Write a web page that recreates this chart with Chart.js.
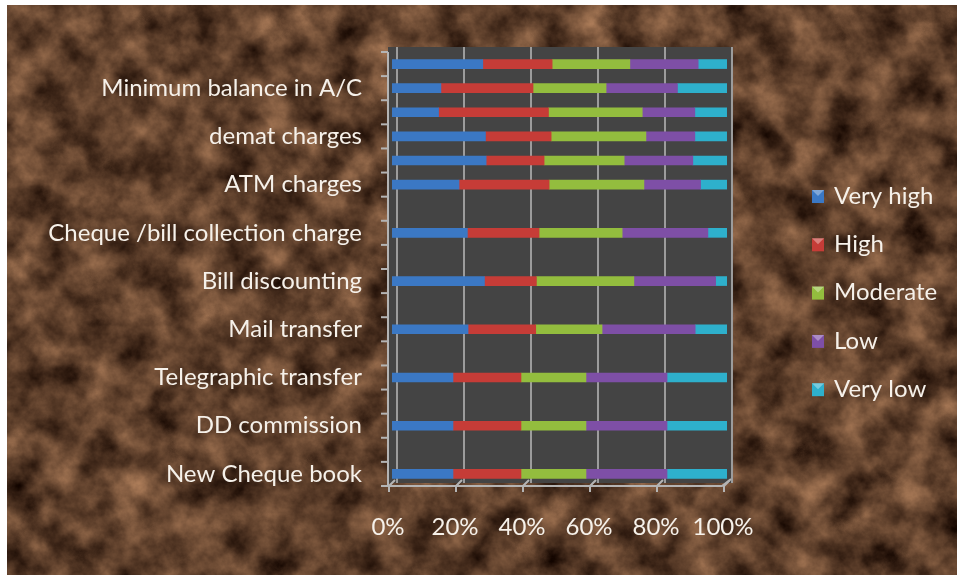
<!DOCTYPE html>
<html>
<head>
<meta charset="utf-8">
<script src="https://cdn.jsdelivr.net/npm/chart.js@4"></script>
<style>
  html, body { margin: 0; padding: 0; background: #fff; }
  #wrap { position: relative; width: 957px; height: 575px; overflow: hidden; }
  #marble { position: absolute; left: 7px; top: 5px; }
  canvas { position: absolute; left: 0; top: 0; }
</style>
</head>
<body>
<div id="wrap">
  <!-- brown marble backdrop -->
  <svg id="marble" width="950" height="570" xmlns="http://www.w3.org/2000/svg">
    <filter id="stone" x="0" y="0" width="100%" height="100%" color-interpolation-filters="sRGB">
      <feTurbulence type="fractalNoise" baseFrequency="0.028" numOctaves="5" seed="7"/>
      <feColorMatrix type="matrix" values="
        0.72 0 0 0 0.01
        0.56 0 0 0 -0.03
        0.42 0 0 0 -0.04
        0    0 0 0 1"/>
    </filter>
    <rect width="950" height="570" fill="#5a3a24"/>
    <rect width="950" height="570" filter="url(#stone)"/>
  </svg>
  <canvas id="chart" width="957" height="575"></canvas>
</div>
<script>
// categories, top to bottom (blank slots keep Excel's spacing)
const categories = [
  "", "Minimum balance in A/C", "", "demat charges", "", "ATM charges", "",
  "Cheque /bill collection charge", "", "Bill discounting", "", "Mail transfer", "",
  "Telegraphic transfer", "", "DD commission", "", "New Cheque book"
];

const seriesNames = ["Very high", "High", "Moderate", "Low", "Very low"];
const seriesColors = ["#3b78c4", "#c63c37", "#93bd3e", "#7e4fa6", "#2eb0cc"];

// share of respondents (%)
const veryHigh = [27.1, 14.6, 13.9, 27.9, 28.1, 20.0, null, 22.5, null, 27.6, null, 22.7, null, 18.2, null, 18.2, null, 18.2];
const high     = [20.7, 27.5, 32.8, 19.6, 17.3, 26.9, null, 21.4, null, 15.5, null, 20.2, null, 20.3, null, 20.3, null, 20.3];
const moderate = [23.2, 21.8, 28.0, 28.3, 23.9, 28.3, null, 24.8, null, 29.1, null, 19.8, null, 19.4, null, 19.4, null, 19.4];
const low      = [20.4, 21.3, 15.7, 14.6, 20.5, 16.9, null, 25.6, null, 24.4, null, 27.8, null, 24.2, null, 24.2, null, 24.2];
const veryLow  = [ 8.6, 14.8,  9.5,  9.5, 10.2,  7.8, null,  5.8, null,  3.4, null,  9.5, null, 17.9, null, 17.9, null, 17.9];

const xTicks = [0, 20, 40, 60, 80, 100];

const seriesData = [veryHigh, high, moderate, low, veryLow];
const FONT = "Lato";
const TEXT = "#f6f1ea";

// dark 3D wall, grid lines, axes and floor
const wallPlugin = {
  id: "wall",
  beforeDatasetsDraw(chart) {
    const { ctx, chartArea: a, scales } = chart;
    const x = scales.x;
    ctx.save();
    ctx.fillStyle = "#444444";
    ctx.fillRect(a.left - 4, a.top - 5, a.right - a.left + 9, a.bottom - a.top + 2);
    ctx.strokeStyle = "#9c9c9c";
    ctx.lineWidth = 2;
    xTicks.forEach(v => {
      const px = x.getPixelForValue(v) + 5;
      ctx.beginPath();
      ctx.moveTo(px, a.top - 5);
      ctx.lineTo(px, a.bottom - 3);
      ctx.stroke();
    });
    // floor edge
    ctx.strokeStyle = "#b4b4b4";
    ctx.beginPath();
    ctx.moveTo(a.left - 4, a.bottom);
    ctx.lineTo(x.getPixelForValue(100) - 5, a.bottom);
    ctx.lineTo(x.getPixelForValue(100) + 4, a.bottom - 7);
    ctx.stroke();
    xTicks.forEach(v => {
      const px = x.getPixelForValue(v) - 3;
      ctx.beginPath();
      ctx.moveTo(px, a.bottom + 6);
      ctx.lineTo(px, a.bottom);
      ctx.lineTo(px + 6, a.bottom - 6);
      ctx.stroke();
    });
    // left axis with category ticks
    ctx.beginPath();
    ctx.moveTo(a.left - 4, a.top);
    ctx.lineTo(a.left - 4, a.bottom);
    ctx.stroke();
    const step = (a.bottom - a.top) / categories.length;
    for (let i = 0; i <= categories.length; i++) {
      const py = a.top + step * i;
      ctx.beginPath();
      ctx.moveTo(a.left - 11, py);
      ctx.lineTo(a.left - 4, py);
      ctx.stroke();
    }
    ctx.restore();
  }
};

// legend on the right, Excel style
const legendPlugin = {
  id: "sideLegend",
  afterDraw(chart) {
    const { ctx } = chart;
    ctx.save();
    ctx.font = "24px " + FONT;
    ctx.textBaseline = "middle";
    chart.data.datasets.forEach((ds, i) => {
      const y = 196 + i * 48.3;
      ctx.fillStyle = ds.backgroundColor;
      ctx.fillRect(812, y - 6, 12, 13);
      ctx.fillStyle = "rgba(255,255,255,0.35)";
      ctx.beginPath();
      ctx.moveTo(812, y - 6); ctx.lineTo(824, y - 6); ctx.lineTo(818, y); ctx.closePath();
      ctx.fill();
      ctx.fillStyle = TEXT;
      ctx.fillText(ds.label, 834, y);
    });
    ctx.restore();
  }
};

new Chart(document.getElementById("chart"), {
  type: "bar",
  data: {
    labels: categories,
    datasets: seriesNames.map((name, i) => ({
      label: name,
      data: seriesData[i],
      backgroundColor: seriesColors[i],
      borderWidth: 0,
      barThickness: 9
    }))
  },
  options: {
    indexAxis: "y",
    responsive: false,
    animation: false,
    layout: { padding: { top: 52, right: 230, bottom: 0, left: 0 } },
    scales: {
      x: {
        stacked: true,
        min: 0,
        max: 100,
        afterBuildTicks(scale) { scale.ticks = xTicks.map(v => ({ value: v })); },
        afterFit(scale) { scale.height = 89; },
        grid: { display: false, drawTicks: false },
        border: { display: false },
        ticks: {
          color: TEXT,
          font: { family: FONT, size: 24 },
          padding: 27,
          labelOffset: -4,
          maxRotation: 0,
          callback: v => v + "%"
        }
      },
      y: {
        stacked: true,
        afterFit(scale) { scale.width = 392; },
        grid: { display: false, drawTicks: false },
        border: { display: false },
        ticks: {
          autoSkip: false,
          color: TEXT,
          font: { family: FONT, size: 24 },
          padding: 30
        }
      }
    },
    plugins: {
      legend: { display: false },
      tooltip: { enabled: false }
    }
  },
  plugins: [wallPlugin, legendPlugin]
});
</script>
</body>
</html>
